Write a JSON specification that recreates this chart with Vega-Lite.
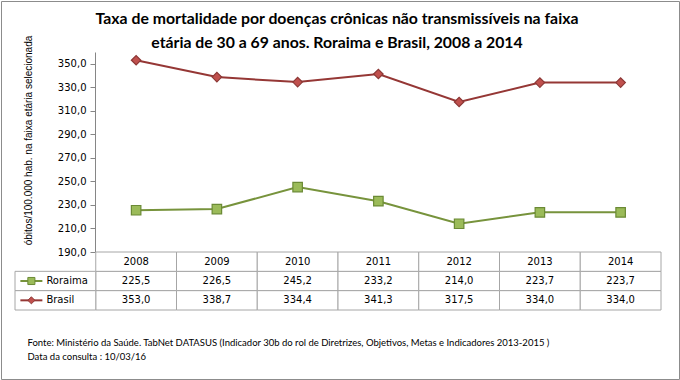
{
  "$schema": "https://vega.github.io/schema/vega-lite/v6.json",
  "width": 678,
  "height": 378,
  "autosize": {"type": "none"},
  "padding": 1,
  "background": "white",
  "config": {
    "view": {"stroke": "#8c8c8c", "strokeWidth": 1},
    "locale": {"number": {"decimal": ",", "thousands": ".", "grouping": [3], "currency": ["R$", ""]}},
    "font": "DejaVu Sans"
  },
  "title": {
    "text": ["Taxa de mortalidade por doenças crônicas não transmissíveis na faixa", "etária de 30 a 69 anos. Roraima e Brasil, 2008 a 2014"],
    "font": "Lato",
    "fontSize": 15.8,
    "fontWeight": "bold",
    "color": "#000000",
    "anchor": "middle",
    "frame": "group",
    "baseline": "top",
    "lineHeight": 24,
    "offset": 0,
    "dy": 51,
    "dx": -3
  },
  "datasets": {
    "dados": [
      {"serie": "Roraima", "ano": "2008", "valor": 225.5},
      {"serie": "Roraima", "ano": "2009", "valor": 226.5},
      {"serie": "Roraima", "ano": "2010", "valor": 245.2},
      {"serie": "Roraima", "ano": "2011", "valor": 233.2},
      {"serie": "Roraima", "ano": "2012", "valor": 214.0},
      {"serie": "Roraima", "ano": "2013", "valor": 223.7},
      {"serie": "Roraima", "ano": "2014", "valor": 223.7},
      {"serie": "Brasil", "ano": "2008", "valor": 353.0},
      {"serie": "Brasil", "ano": "2009", "valor": 338.7},
      {"serie": "Brasil", "ano": "2010", "valor": 334.4},
      {"serie": "Brasil", "ano": "2011", "valor": 341.3},
      {"serie": "Brasil", "ano": "2012", "valor": 317.5},
      {"serie": "Brasil", "ano": "2013", "valor": 334.0},
      {"serie": "Brasil", "ano": "2014", "valor": 334.0}
    ]
  },
  "data": {"name": "dados"},
  "layer": [
    {
      "layer": [
        {
          "mark": {"type": "line", "strokeWidth": 2},
          "encoding": {
            "x": {
              "field": "ano", "type": "nominal",
              "scale": {"type": "band", "domain": ["legenda", "2008", "2009", "2010", "2011", "2012", "2013", "2014"], "range": [14, 660], "paddingInner": 0, "paddingOuter": 0},
              "axis": {
                "labels": false, "ticks": false, "domain": false, "grid": false,
                "title": ["Fonte: Ministério da Saúde. TabNet DATASUS (Indicador 30b do rol de Diretrizes, Objetivos, Metas e Indicadores 2013-2015 )", "Data da consulta : 10/03/16"],
                "titleFont": "Lato", "titleFontSize": 9.5, "titleFontWeight": "normal", "titleColor": "#000000",
                "titleAlign": "left", "titleAnchor": "start", "titleBaseline": "alphabetic", "titleLineHeight": 14,
                "titleX": 26, "titleY": -34
              }
            },
            "y": {
              "field": "valor", "type": "quantitative",
              "scale": {"domain": [190, 360], "range": [251, 51], "nice": false, "zero": false},
              "axis": {
                "values": [190, 210, 230, 250, 270, 290, 310, 330, 350],
                "format": ".1f", "offset": -94, "grid": false,
                "labelFont": "DejaVu Sans", "labelFontSize": 10, "labelColor": "#000000", "labelPadding": 4,
                "tickSize": 5, "tickColor": "#868686", "domainColor": "#868686",
                "title": "óbitos/100.000 hab. na faixa etária selecionada",
                "titleFont": "Liberation Sans", "titleFontSize": 10, "titleFontWeight": "normal", "titleColor": "#000000",
                "titleX": -67, "titleY": 139, "titleAlign": "center", "titleBaseline": "middle", "titleAngle": 270
              }
            },
            "color": {"field": "serie", "type": "nominal", "scale": {"domain": ["Roraima", "Brasil"], "range": ["#77933c", "#953735"]}, "legend": null}
          }
        },
        {
          "mark": {"type": "point", "filled": true, "size": 90, "strokeWidth": 1.2, "opacity": 1},
          "encoding": {
            "x": {"field": "ano", "type": "nominal"},
            "y": {"field": "valor", "type": "quantitative"},
            "shape": {"field": "serie", "type": "nominal", "scale": {"domain": ["Roraima", "Brasil"], "range": ["square", "diamond"]}, "legend": null},
            "fill": {"field": "serie", "type": "nominal", "scale": {"domain": ["Roraima", "Brasil"], "range": ["#9bbb59", "#c0504d"]}, "legend": null},
            "stroke": {"field": "serie", "type": "nominal", "scale": {"domain": ["Roraima", "Brasil"], "range": ["#6b8a35", "#8c3836"]}, "legend": null}
          }
        }
      ]
    },
    {
      "layer": [
        {
          "mark": {"type": "rect", "fill": "white", "stroke": "#a6a6a6", "strokeWidth": 1},
          "encoding": {
            "x": {"field": "ano", "type": "nominal"},
            "y": {"field": "serie", "type": "nominal", "scale": {"type": "band", "domain": ["Ano", "Roraima", "Brasil"], "range": [251, 309], "paddingInner": 0, "paddingOuter": 0}, "axis": null}
          }
        },
        {
          "transform": [{"filter": "datum.serie === 'Roraima'"}],
          "mark": {"type": "rect", "fill": "white", "stroke": "#a6a6a6", "strokeWidth": 1},
          "encoding": {
            "x": {"field": "ano", "type": "nominal"},
            "y": {"datum": "Ano", "type": "nominal"}
          }
        },
        {
          "transform": [{"filter": "datum.ano === '2008'"}],
          "mark": {"type": "rect", "fill": "white", "stroke": "#a6a6a6", "strokeWidth": 1},
          "encoding": {
            "x": {"datum": "legenda", "type": "nominal"},
            "y": {"field": "serie", "type": "nominal"}
          }
        },
        {
          "mark": {"type": "text", "font": "DejaVu Sans", "fontSize": 10, "color": "#000000", "align": "center", "baseline": "middle"},
          "encoding": {
            "x": {"field": "ano", "type": "nominal"},
            "y": {"field": "serie", "type": "nominal"},
            "text": {"field": "valor", "type": "quantitative", "format": ".1f"}
          }
        },
        {
          "transform": [{"filter": "datum.serie === 'Roraima'"}],
          "mark": {"type": "text", "font": "DejaVu Sans", "fontSize": 10, "color": "#000000", "align": "center", "baseline": "middle"},
          "encoding": {
            "x": {"field": "ano", "type": "nominal"},
            "y": {"datum": "Ano", "type": "nominal"},
            "text": {"field": "ano", "type": "nominal"}
          }
        },
        {
          "transform": [{"filter": "datum.ano === '2008'"}],
          "mark": {"type": "tick", "orient": "horizontal", "size": 22, "thickness": 2, "xOffset": -24, "opacity": 1},
          "encoding": {
            "x": {"datum": "legenda", "type": "nominal"},
            "y": {"field": "serie", "type": "nominal"},
            "color": {"field": "serie", "type": "nominal", "legend": null}
          }
        },
        {
          "transform": [{"filter": "datum.ano === '2008'"}],
          "mark": {"type": "point", "filled": true, "size": 50, "strokeWidth": 1, "xOffset": -24, "opacity": 1},
          "encoding": {
            "x": {"datum": "legenda", "type": "nominal"},
            "y": {"field": "serie", "type": "nominal"},
            "shape": {"field": "serie", "type": "nominal", "legend": null},
            "fill": {"field": "serie", "type": "nominal", "legend": null},
            "stroke": {"field": "serie", "type": "nominal", "legend": null}
          }
        },
        {
          "transform": [{"filter": "datum.ano === '2008'"}],
          "mark": {"type": "text", "font": "DejaVu Sans", "fontSize": 10, "color": "#000000", "align": "left", "baseline": "middle", "xOffset": -9},
          "encoding": {
            "x": {"datum": "legenda", "type": "nominal"},
            "y": {"field": "serie", "type": "nominal"},
            "text": {"field": "serie", "type": "nominal"}
          }
        }
      ]
    }
  ],
  "resolve": {"scale": {"y": "independent"}}
}
